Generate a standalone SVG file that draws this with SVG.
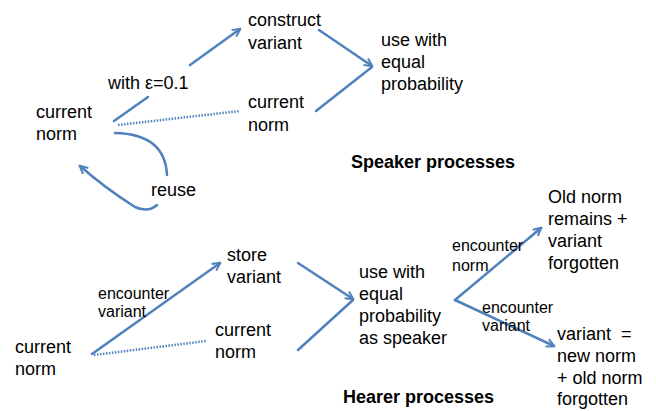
<svg xmlns="http://www.w3.org/2000/svg" width="656" height="411" viewBox="0 0 656 411">
<style>
.t{font-family:"Liberation Sans",Arial,sans-serif;font-size:18px;fill:#000;white-space:pre}
.s{font-family:"Liberation Sans",Arial,sans-serif;font-size:16px;fill:#000}
.b{font-family:"Liberation Sans",Arial,sans-serif;font-size:18px;font-weight:bold;fill:#000}
.l{stroke:#4f81bd;stroke-width:2.5;fill:none;stroke-linecap:round}
.d{stroke:#4f81bd;stroke-width:2.5;fill:none;stroke-dasharray:1.5 1.5}
</style>
<defs>
<marker id="ah" viewBox="0 0 10 10" refX="8.5" refY="5" markerWidth="4" markerHeight="4" orient="auto" markerUnits="strokeWidth">
<path d="M1,1 L9,5 L1,9" fill="none" stroke="#4f81bd" stroke-width="2" stroke-linejoin="miter"/>
</marker>
</defs>
<rect width="656" height="411" fill="#fff"/>
<g id="connectors">
<line class="l" x1="114" y1="121" x2="148" y2="97"/>
<line class="l" x1="190" y1="65" x2="240" y2="29" marker-end="url(#ah)"/>
<line class="d" x1="118" y1="125" x2="240" y2="111"/>
<path class="l" d="M115,133 Q165,134 167,175"/>
<path class="l" d="M157,205 Q148,213 135,207 Q105,188 80,166" marker-end="url(#ah)"/>
<line class="l" x1="319" y1="30" x2="372" y2="66" marker-end="url(#ah)"/>
<line class="l" x1="316" y1="111" x2="372" y2="67"/>
<line class="l" x1="92" y1="354" x2="220" y2="263" marker-end="url(#ah)"/>
<line class="d" x1="94" y1="355" x2="206" y2="341"/>
<line class="l" x1="298" y1="263" x2="353" y2="299" marker-end="url(#ah)"/>
<line class="l" x1="298" y1="350" x2="353" y2="300"/>
<line class="l" x1="455" y1="300" x2="541" y2="228" marker-end="url(#ah)"/>
<line class="l" x1="455" y1="300" x2="554" y2="346" marker-end="url(#ah)"/>
</g>
<g id="n-construct"><text class="t" x="248" y="26">construct</text><text class="t" x="248" y="49">variant</text></g>
<g id="l-with"><text class="t" x="108" y="89">with ε=0.1</text></g>
<g id="n-current1"><text class="t" x="36" y="118">current</text><text class="t" x="36" y="140">norm</text></g>
<g id="n-current2"><text class="t" x="248" y="108">current</text><text class="t" x="248" y="131">norm</text></g>
<g id="n-use1"><text class="t" x="381" y="46">use with</text><text class="t" x="381" y="68">equal</text><text class="t" x="381" y="90">probability</text></g>
<g id="l-reuse"><text class="t" x="151" y="196">reuse</text></g>
<g id="title-speaker"><text class="b" x="351" y="168">Speaker processes</text></g>
<g id="n-old"><text class="t" x="548" y="203">Old norm</text><text class="t" x="548" y="225">remains +</text><text class="t" x="548" y="247">variant</text><text class="t" x="548" y="269">forgotten</text></g>
<g id="n-store"><text class="t" x="227" y="261">store</text><text class="t" x="227" y="283">variant</text></g>
<g id="l-enc1"><text class="s" x="98" y="299">encounter</text><text class="s" x="98" y="317">variant</text></g>
<g id="n-current3"><text class="t" x="15" y="353">current</text><text class="t" x="15" y="375">norm</text></g>
<g id="n-current4"><text class="t" x="215" y="336">current</text><text class="t" x="215" y="358">norm</text></g>
<g id="n-use2"><text class="t" x="359" y="278">use with</text><text class="t" x="359" y="300">equal</text><text class="t" x="359" y="322">probability</text><text class="t" x="359" y="344">as speaker</text></g>
<g id="l-enc2"><text class="s" x="452" y="251">encounter</text><text class="s" x="452" y="271">norm</text></g>
<g id="l-enc3"><text class="s" x="482" y="313">encounter</text><text class="s" x="482" y="331">variant</text></g>
<g id="title-hearer"><text class="b" x="343" y="403">Hearer processes</text></g>
<g id="n-new"><text class="t" x="557" y="340" xml:space="preserve">variant  =</text><text class="t" x="557" y="362">new norm</text><text class="t" x="557" y="384">+ old norm</text><text class="t" x="557" y="405">forgotten</text></g>
</svg>
